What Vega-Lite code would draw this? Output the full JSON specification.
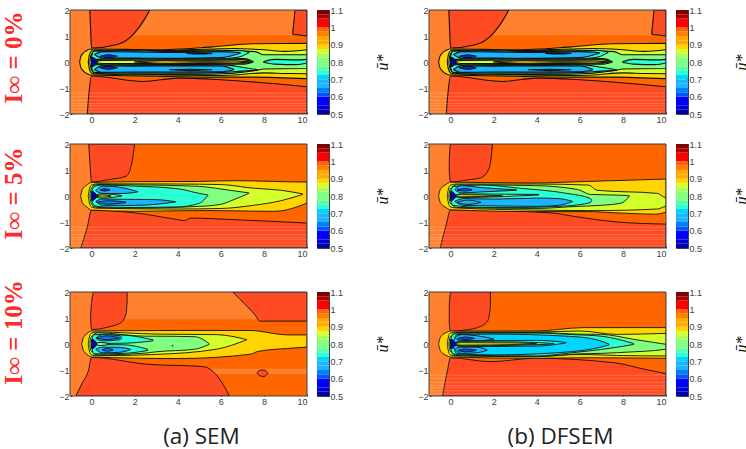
{"$schema":"https://vega.github.io/schema/vega-lite/v6.json","background":"white","padding":{"left":1,"top":5,"right":0,"bottom":0},
"config":{"view":{"stroke":null},"axis":{"grid":false,"domain":false,"labelFont":"Liberation Sans","labelFontSize":9,"labelColor":"#404040","tickColor":"#303030","tickSize":-2,"labelPadding":3,"zindex":1}},
"datasets":{
"fr":[{"x":-1,"x2":10,"y":-2,"y2":2}],
"hl":[{"x":-1,"x2":0.4,"y":-2,"y2":2}],
"h0":[{"x":-1,"x2":0.4,"y":-2,"y2":2},{"x":0.4,"x2":10,"y":1.03,"y2":2}],
"h10":[{"x":-1,"x2":0.4,"y":-2,"y2":2},{"x":0.4,"x2":10,"y":0.95,"y2":2},{"x":5,"x2":10,"y":-1.15,"y2":-0.95}],
"st":[{"x":-1,"x2":10,"y":-1.92},{"x":-1,"x2":10,"y":-1.8},{"x":-1,"x2":10,"y":-1.68},{"x":-1,"x2":10,"y":-1.6},{"x":-1,"x2":10,"y":-1.48},{"x":-1,"x2":10,"y":-1.32},{"x":-1,"x2":10,"y":-1.2}],
"cb":[{"lo":0.5,"hi":0.525},{"lo":0.525,"hi":0.55},{"lo":0.55,"hi":0.575},{"lo":0.575,"hi":0.6},{"lo":0.6,"hi":0.625},{"lo":0.625,"hi":0.65},{"lo":0.65,"hi":0.675},{"lo":0.675,"hi":0.7},{"lo":0.7,"hi":0.725},{"lo":0.725,"hi":0.75},{"lo":0.75,"hi":0.775},{"lo":0.775,"hi":0.8},{"lo":0.8,"hi":0.825},{"lo":0.825,"hi":0.85},{"lo":0.85,"hi":0.875},{"lo":0.875,"hi":0.9},{"lo":0.9,"hi":0.925},{"lo":0.925,"hi":0.95},{"lo":0.95,"hi":0.975},{"lo":0.975,"hi":1.0},{"lo":1.0,"hi":1.025},{"lo":1.025,"hi":1.05},{"lo":1.05,"hi":1.075},{"lo":1.075,"hi":1.1}],
"a0":[
{"s":1,"v":0.98,"x":-0.08,"y":2,"y2":2},{"s":1,"v":0.98,"x":-0.04,"y":2,"y2":1.2},{"s":1,"v":0.98,"x":0,"y":2,"y2":0.54},{"s":1,"v":0.98,"x":1.2,"y":2,"y2":0.67},{"s":1,"v":0.98,"x":2,"y":2,"y2":1.12},{"s":1,"v":0.98,"x":2.45,"y":2,"y2":1.63},{"s":1,"v":0.98,"x":2.7,"y":2,"y2":2},
{"s":2,"v":0.98,"x":-0.2,"y":-2,"y2":-2},{"s":2,"v":0.98,"x":-0.12,"y":-1.2,"y2":-2},{"s":2,"v":0.98,"x":0,"y":-0.54,"y2":-2},{"s":2,"v":0.98,"x":2.4,"y":-0.75,"y2":-2},{"s":2,"v":0.98,"x":4,"y":-0.62,"y2":-2},{"s":2,"v":0.98,"x":6,"y":-0.68,"y2":-2},{"s":2,"v":0.98,"x":10,"y":-0.95,"y2":-2},
{"s":3,"v":0.98,"x":9.34,"y":1.15,"y2":1.1},{"s":3,"v":0.98,"x":9.4,"y":1.6,"y2":1.05},{"s":3,"v":0.98,"x":9.45,"y":2,"y2":1.05},{"s":3,"v":0.98,"x":10,"y":2,"y2":1},
{"s":4,"v":0.89,"x":-0.55,"y":0.02,"y2":-0.02},{"s":4,"v":0.89,"x":-0.5,"y":0.2,"y2":-0.2},{"s":4,"v":0.89,"x":-0.4,"y":0.33,"y2":-0.33},{"s":4,"v":0.89,"x":-0.25,"y":0.43,"y2":-0.43},{"s":4,"v":0.89,"x":-0.1,"y":0.49,"y2":-0.49},{"s":4,"v":0.89,"x":0.1,"y":0.5,"y2":-0.5},{"s":4,"v":0.89,"x":3,"y":0.47,"y2":-0.55},{"s":4,"v":0.89,"x":5.6,"y":0.58,"y2":-0.58},{"s":4,"v":0.89,"x":7.5,"y":0.7,"y2":-0.58},{"s":4,"v":0.89,"x":10,"y":0.72,"y2":-0.64},
{"s":5,"v":0.84,"x":-0.15,"y":0.02,"y2":-0.02},{"s":5,"v":0.84,"x":-0.1,"y":0.27,"y2":-0.27},{"s":5,"v":0.84,"x":0,"y":0.42,"y2":-0.42},{"s":5,"v":0.84,"x":0.2,"y":0.46,"y2":-0.46},{"s":5,"v":0.84,"x":3,"y":0.44,"y2":-0.5},{"s":5,"v":0.84,"x":5.6,"y":0.5,"y2":-0.52},{"s":5,"v":0.84,"x":6.6,"y":0.52,"y2":-0.5},{"s":5,"v":0.84,"x":8,"y":0.47,"y2":-0.42},{"s":5,"v":0.84,"x":9,"y":0.41,"y2":-0.44},{"s":5,"v":0.84,"x":10,"y":0.47,"y2":-0.45},
{"s":6,"v":0.79,"x":-0.08,"y":0.02,"y2":-0.02},{"s":6,"v":0.79,"x":-0.03,"y":0.25,"y2":-0.25},{"s":6,"v":0.79,"x":0.1,"y":0.4,"y2":-0.4},{"s":6,"v":0.79,"x":0.3,"y":0.44,"y2":-0.44},{"s":6,"v":0.79,"x":3,"y":0.42,"y2":-0.48},{"s":6,"v":0.79,"x":5.6,"y":0.46,"y2":-0.47},{"s":6,"v":0.79,"x":7.6,"y":0.4,"y2":-0.33},{"s":6,"v":0.79,"x":8,"y":0.28,"y2":-0.27},{"s":6,"v":0.79,"x":10,"y":0.28,"y2":-0.25},
{"s":7,"v":0.74,"x":0,"y":0.2,"y2":0.18},{"s":7,"v":0.74,"x":0.1,"y":0.42,"y2":0.1},{"s":7,"v":0.74,"x":2,"y":0.43,"y2":0.12},{"s":7,"v":0.74,"x":4,"y":0.4,"y2":0.1},{"s":7,"v":0.74,"x":6,"y":0.43,"y2":0.12},{"s":7,"v":0.74,"x":6.8,"y":0.45,"y2":0.18},{"s":7,"v":0.74,"x":7.3,"y":0.38,"y2":0.36},
{"s":8,"v":0.74,"x":0,"y":-0.18,"y2":-0.2},{"s":8,"v":0.74,"x":0.1,"y":-0.1,"y2":-0.4},{"s":8,"v":0.74,"x":2,"y":-0.12,"y2":-0.43},{"s":8,"v":0.74,"x":4,"y":-0.12,"y2":-0.43},{"s":8,"v":0.74,"x":6,"y":-0.1,"y2":-0.41},{"s":8,"v":0.74,"x":7,"y":-0.2,"y2":-0.35},{"s":8,"v":0.74,"x":7.7,"y":-0.3,"y2":-0.32},
{"s":9,"v":0.67,"x":0.15,"y":0.3,"y2":0.28},{"s":9,"v":0.67,"x":0.5,"y":0.4,"y2":0.15},{"s":9,"v":0.67,"x":2,"y":0.39,"y2":0.15},{"s":9,"v":0.67,"x":4,"y":0.37,"y2":0.14},{"s":9,"v":0.67,"x":6,"y":0.4,"y2":0.17},{"s":9,"v":0.67,"x":6.9,"y":0.36,"y2":0.34},
{"s":10,"v":0.67,"x":0.15,"y":-0.28,"y2":-0.3},{"s":10,"v":0.67,"x":0.5,"y":-0.15,"y2":-0.4},{"s":10,"v":0.67,"x":2,"y":-0.16,"y2":-0.39},{"s":10,"v":0.67,"x":4,"y":-0.15,"y2":-0.39},{"s":10,"v":0.67,"x":6,"y":-0.15,"y2":-0.38},{"s":10,"v":0.67,"x":6.6,"y":-0.28,"y2":-0.3},
{"s":11,"v":0.58,"x":0.4,"y":0.22,"y2":0.22},{"s":11,"v":0.58,"x":0.8,"y":0.28,"y2":0.17},{"s":11,"v":0.58,"x":1.2,"y":0.22,"y2":0.22},
{"s":12,"v":0.58,"x":0.4,"y":-0.22,"y2":-0.22},{"s":12,"v":0.58,"x":0.8,"y":-0.17,"y2":-0.28},{"s":12,"v":0.58,"x":1.2,"y":-0.22,"y2":-0.22},
{"s":13,"v":0.63,"x":4.4,"y":0.33,"y2":0.33},{"s":13,"v":0.63,"x":5,"y":0.35,"y2":0.31},{"s":13,"v":0.63,"x":5.6,"y":0.33,"y2":0.33},
{"s":14,"v":0.63,"x":3.6,"y":-0.3,"y2":-0.3},{"s":14,"v":0.63,"x":4.6,"y":-0.28,"y2":-0.33},{"s":14,"v":0.63,"x":5.6,"y":-0.3,"y2":-0.3},
{"s":15,"v":0.79,"x":0.15,"y":0.02,"y2":-0.02},{"s":15,"v":0.79,"x":0.5,"y":0.11,"y2":-0.11},{"s":15,"v":0.79,"x":5,"y":0.11,"y2":-0.09},{"s":15,"v":0.79,"x":7.1,"y":0.13,"y2":-0.08},{"s":15,"v":0.79,"x":7.5,"y":0.02,"y2":0},
{"s":16,"v":0.84,"x":0.2,"y":0.02,"y2":-0.02},{"s":16,"v":0.84,"x":0.5,"y":0.06,"y2":-0.06},{"s":16,"v":0.84,"x":3,"y":0.07,"y2":-0.06},{"s":16,"v":0.84,"x":5,"y":0.07,"y2":-0.06},{"s":16,"v":0.84,"x":7,"y":0.09,"y2":-0.05},{"s":16,"v":0.84,"x":7.4,"y":0.02,"y2":0},
{"s":17,"v":0.89,"x":2,"y":0.01,"y2":0},{"s":17,"v":0.89,"x":3.5,"y":0.05,"y2":-0.05},{"s":17,"v":0.89,"x":5,"y":0.03,"y2":-0.03},{"s":17,"v":0.89,"x":6.6,"y":0.04,"y2":-0.04},{"s":17,"v":0.89,"x":7.3,"y":0.01,"y2":0},
{"s":18,"v":0.74,"x":8,"y":0.02,"y2":-0.02},{"s":18,"v":0.74,"x":8.5,"y":0.1,"y2":-0.08},{"s":18,"v":0.74,"x":9.5,"y":0.08,"y2":-0.1},{"s":18,"v":0.74,"x":10,"y":0.1,"y2":-0.04},
{"s":19,"v":0.5,"x":0,"y":0.18,"y2":-0.18},{"s":19,"v":0.5,"x":0.1,"y":0.16,"y2":-0.16},{"s":19,"v":0.5,"x":0.25,"y":0.02,"y2":-0.02}],
"a5":[
{"s":1,"v":0.98,"x":-0.13,"y":2,"y2":2},{"s":1,"v":0.98,"x":-0.07,"y":2,"y2":1.2},{"s":1,"v":0.98,"x":0,"y":2,"y2":0.54},{"s":1,"v":0.98,"x":0.8,"y":2,"y2":0.63},{"s":1,"v":0.98,"x":1.6,"y":2,"y2":0.76},{"s":1,"v":0.98,"x":1.85,"y":2,"y2":1.2},{"s":1,"v":0.98,"x":2,"y":2,"y2":2},
{"s":2,"v":0.98,"x":-0.5,"y":-2,"y2":-2},{"s":2,"v":0.98,"x":-0.2,"y":-1.2,"y2":-2},{"s":2,"v":0.98,"x":0,"y":-0.54,"y2":-2},{"s":2,"v":0.98,"x":2,"y":-0.65,"y2":-2},{"s":2,"v":0.98,"x":4,"y":-0.91,"y2":-2},{"s":2,"v":0.98,"x":4.3,"y":-0.95,"y2":-2},{"s":2,"v":0.98,"x":4.6,"y":-0.85,"y2":-2},{"s":2,"v":0.98,"x":6.6,"y":-0.91,"y2":-2},{"s":2,"v":0.98,"x":10,"y":-1.04,"y2":-2},
{"s":3,"v":0.89,"x":-0.5,"y":0.02,"y2":-0.02},{"s":3,"v":0.89,"x":-0.45,"y":0.2,"y2":-0.2},{"s":3,"v":0.89,"x":-0.35,"y":0.33,"y2":-0.33},{"s":3,"v":0.89,"x":-0.2,"y":0.44,"y2":-0.44},{"s":3,"v":0.89,"x":0,"y":0.52,"y2":-0.54},{"s":3,"v":0.89,"x":2,"y":0.55,"y2":-0.59},{"s":3,"v":0.89,"x":5,"y":0.56,"y2":-0.56},{"s":3,"v":0.89,"x":6.6,"y":0.59,"y2":-0.57},{"s":3,"v":0.89,"x":8.5,"y":0.56,"y2":-0.59},{"s":3,"v":0.89,"x":9.6,"y":0.54,"y2":-0.4},{"s":3,"v":0.89,"x":10,"y":0.54,"y2":-0.27},
{"s":4,"v":0.84,"x":-0.15,"y":0.02,"y2":-0.02},{"s":4,"v":0.84,"x":-0.1,"y":0.27,"y2":-0.27},{"s":4,"v":0.84,"x":0,"y":0.42,"y2":-0.42},{"s":4,"v":0.84,"x":0.3,"y":0.47,"y2":-0.47},{"s":4,"v":0.84,"x":4,"y":0.46,"y2":-0.5},{"s":4,"v":0.84,"x":6,"y":0.44,"y2":-0.48},{"s":4,"v":0.84,"x":7.5,"y":0.3,"y2":-0.36},{"s":4,"v":0.84,"x":8.8,"y":0.22,"y2":-0.18},{"s":4,"v":0.84,"x":9.8,"y":0.08,"y2":0.06},
{"s":5,"v":0.79,"x":-0.08,"y":0.02,"y2":-0.02},{"s":5,"v":0.79,"x":-0.03,"y":0.25,"y2":-0.25},{"s":5,"v":0.79,"x":0.1,"y":0.4,"y2":-0.4},{"s":5,"v":0.79,"x":0.3,"y":0.44,"y2":-0.44},{"s":5,"v":0.79,"x":2,"y":0.43,"y2":-0.46},{"s":5,"v":0.79,"x":5,"y":0.37,"y2":-0.4},{"s":5,"v":0.79,"x":6,"y":0.27,"y2":-0.32},{"s":5,"v":0.79,"x":6.6,"y":0.2,"y2":-0.14},{"s":5,"v":0.79,"x":7.3,"y":0.12,"y2":0.1},
{"s":6,"v":0.74,"x":-0.02,"y":0.02,"y2":-0.02},{"s":6,"v":0.74,"x":0.1,"y":0.36,"y2":-0.36},{"s":6,"v":0.74,"x":0.5,"y":0.42,"y2":-0.42},{"s":6,"v":0.74,"x":2,"y":0.38,"y2":-0.44},{"s":6,"v":0.74,"x":4,"y":0.28,"y2":-0.42},{"s":6,"v":0.74,"x":5,"y":0.1,"y2":-0.28},{"s":6,"v":0.74,"x":5.4,"y":0.04,"y2":0.02},
{"s":7,"v":0.67,"x":0.2,"y":0.21,"y2":0.2},{"s":7,"v":0.67,"x":0.5,"y":0.38,"y2":0.1},{"s":7,"v":0.67,"x":1,"y":0.37,"y2":0.09},{"s":7,"v":0.67,"x":1.6,"y":0.29,"y2":0.1},{"s":7,"v":0.67,"x":2.15,"y":0.17,"y2":0.16},
{"s":8,"v":0.67,"x":0.2,"y":-0.2,"y2":-0.21},{"s":8,"v":0.67,"x":0.5,"y":-0.12,"y2":-0.36},{"s":8,"v":0.67,"x":2,"y":-0.13,"y2":-0.36},{"s":8,"v":0.67,"x":3,"y":-0.14,"y2":-0.32},{"s":8,"v":0.67,"x":3.9,"y":-0.22,"y2":-0.23},
{"s":9,"v":0.58,"x":0.4,"y":0.24,"y2":0.23},{"s":9,"v":0.58,"x":0.6,"y":0.28,"y2":0.19},{"s":9,"v":0.58,"x":0.85,"y":0.24,"y2":0.23},
{"s":10,"v":0.63,"x":0.25,"y":-0.24,"y2":-0.25},{"s":10,"v":0.63,"x":0.8,"y":-0.18,"y2":-0.31},{"s":10,"v":0.63,"x":1.6,"y":-0.24,"y2":-0.25},
{"s":11,"v":0.79,"x":0.15,"y":0.02,"y2":-0.02},{"s":11,"v":0.79,"x":0.5,"y":0.09,"y2":-0.09},{"s":11,"v":0.79,"x":1.1,"y":0.05,"y2":-0.04},{"s":11,"v":0.79,"x":1.4,"y":0.01,"y2":0},
{"s":12,"v":0.87,"x":0.25,"y":0.01,"y2":-0.01},{"s":12,"v":0.87,"x":0.5,"y":0.04,"y2":-0.04},{"s":12,"v":0.87,"x":0.9,"y":0.01,"y2":-0.01},
{"s":13,"v":0.5,"x":0,"y":0.18,"y2":-0.18},{"s":13,"v":0.5,"x":0.1,"y":0.16,"y2":-0.16},{"s":13,"v":0.5,"x":0.25,"y":0.02,"y2":-0.02}],
"a10":[
{"s":1,"v":0.98,"x":-0.04,"y":1.1,"y2":0.9},{"s":1,"v":0.98,"x":0,"y":1.6,"y2":0.56},{"s":1,"v":0.98,"x":0.12,"y":2,"y2":0.56},{"s":1,"v":0.98,"x":0.8,"y":2,"y2":0.66},{"s":1,"v":0.98,"x":1.36,"y":2,"y2":0.82},{"s":1,"v":0.98,"x":1.6,"y":2,"y2":1.15},{"s":1,"v":0.98,"x":1.65,"y":2,"y2":1.6},
{"s":2,"v":0.98,"x":-0.73,"y":-2,"y2":-2},{"s":2,"v":0.98,"x":-0.4,"y":-1.45,"y2":-2},{"s":2,"v":0.98,"x":-0.15,"y":-1.04,"y2":-2},{"s":2,"v":0.98,"x":0,"y":-0.52,"y2":-2},{"s":2,"v":0.98,"x":2.6,"y":-0.78,"y2":-2},{"s":2,"v":0.98,"x":5.2,"y":-0.87,"y2":-2},{"s":2,"v":0.98,"x":5.9,"y":-1.3,"y2":-2},{"s":2,"v":0.98,"x":6.4,"y":-2,"y2":-2},
{"s":3,"v":0.98,"x":6.55,"y":2,"y2":2},{"s":3,"v":0.98,"x":7.1,"y":2,"y2":1.55},{"s":3,"v":0.98,"x":7.65,"y":2,"y2":1.05},{"s":3,"v":0.98,"x":7.8,"y":2,"y2":0.88},{"s":3,"v":0.98,"x":10,"y":2,"y2":0.88},
{"s":4,"v":0.98,"x":7.68,"y":-1.1,"y2":-1.11},{"s":4,"v":0.98,"x":7.8,"y":-1.02,"y2":-1.22},{"s":4,"v":0.98,"x":8,"y":-1,"y2":-1.25},{"s":4,"v":0.98,"x":8.17,"y":-1.1,"y2":-1.14},
{"s":5,"v":0.89,"x":-0.45,"y":0.02,"y2":-0.02},{"s":5,"v":0.89,"x":-0.4,"y":0.2,"y2":-0.2},{"s":5,"v":0.89,"x":-0.3,"y":0.33,"y2":-0.33},{"s":5,"v":0.89,"x":-0.15,"y":0.44,"y2":-0.44},{"s":5,"v":0.89,"x":0,"y":0.5,"y2":-0.5},{"s":5,"v":0.89,"x":4,"y":0.52,"y2":-0.56},{"s":5,"v":0.89,"x":7.4,"y":0.52,"y2":-0.39},{"s":5,"v":0.89,"x":7.7,"y":0.5,"y2":-0.29},{"s":5,"v":0.89,"x":9.1,"y":0.35,"y2":-0.17},{"s":5,"v":0.89,"x":10,"y":0.35,"y2":-0.12},
{"s":6,"v":0.84,"x":-0.15,"y":0.02,"y2":-0.02},{"s":6,"v":0.84,"x":-0.1,"y":0.27,"y2":-0.27},{"s":6,"v":0.84,"x":0,"y":0.42,"y2":-0.42},{"s":6,"v":0.84,"x":0.3,"y":0.46,"y2":-0.45},{"s":6,"v":0.84,"x":3,"y":0.38,"y2":-0.4},{"s":6,"v":0.84,"x":5.8,"y":0.36,"y2":-0.2},{"s":6,"v":0.84,"x":7.2,"y":0.17,"y2":0.16},
{"s":7,"v":0.79,"x":-0.08,"y":0.02,"y2":-0.02},{"s":7,"v":0.79,"x":-0.03,"y":0.25,"y2":-0.25},{"s":7,"v":0.79,"x":0.3,"y":0.43,"y2":-0.42},{"s":7,"v":0.79,"x":2.5,"y":0.3,"y2":-0.35},{"s":7,"v":0.79,"x":3,"y":0.3,"y2":-0.3},{"s":7,"v":0.79,"x":4.8,"y":0.28,"y2":-0.2},{"s":7,"v":0.79,"x":5.45,"y":0.02,"y2":-0.02},
{"s":8,"v":0.74,"x":0,"y":0.05,"y2":0.03},{"s":8,"v":0.74,"x":0.1,"y":0.36,"y2":0.02},{"s":8,"v":0.74,"x":1.5,"y":0.34,"y2":0.03},{"s":8,"v":0.74,"x":2.85,"y":0.16,"y2":0.12},
{"s":9,"v":0.74,"x":0,"y":-0.03,"y2":-0.05},{"s":9,"v":0.74,"x":0.1,"y":-0.02,"y2":-0.38},{"s":9,"v":0.74,"x":1.5,"y":-0.03,"y2":-0.36},{"s":9,"v":0.74,"x":2.6,"y":-0.2,"y2":-0.25},
{"s":10,"v":0.67,"x":0.2,"y":0.23,"y2":0.22},{"s":10,"v":0.67,"x":0.5,"y":0.36,"y2":0.12},{"s":10,"v":0.67,"x":1.3,"y":0.32,"y2":0.16},{"s":10,"v":0.67,"x":1.4,"y":0.25,"y2":0.23},
{"s":11,"v":0.67,"x":0.2,"y":-0.2,"y2":-0.21},{"s":11,"v":0.67,"x":0.5,"y":-0.12,"y2":-0.34},{"s":11,"v":0.67,"x":1.3,"y":-0.13,"y2":-0.32},{"s":11,"v":0.67,"x":1.8,"y":-0.2,"y2":-0.22},
{"s":12,"v":0.63,"x":0.25,"y":0.24,"y2":0.23},{"s":12,"v":0.63,"x":0.7,"y":0.31,"y2":0.17},{"s":12,"v":0.63,"x":1.3,"y":0.24,"y2":0.23},
{"s":13,"v":0.63,"x":0.5,"y":-0.22,"y2":-0.23},{"s":13,"v":0.63,"x":0.75,"y":-0.17,"y2":-0.28},{"s":13,"v":0.63,"x":1,"y":-0.22,"y2":-0.23},
{"s":14,"v":0.79,"x":0.15,"y":0.02,"y2":-0.02},{"s":14,"v":0.79,"x":0.4,"y":0.06,"y2":-0.06},{"s":14,"v":0.79,"x":0.85,"y":0.01,"y2":-0.01},
{"s":15,"v":0.7,"x":3.72,"y":-0.07,"y2":-0.07},{"s":15,"v":0.7,"x":3.75,"y":-0.05,"y2":-0.09},{"s":15,"v":0.7,"x":3.78,"y":-0.07,"y2":-0.07},
{"s":16,"v":0.5,"x":0,"y":0.18,"y2":-0.18},{"s":16,"v":0.5,"x":0.1,"y":0.16,"y2":-0.16},{"s":16,"v":0.5,"x":0.25,"y":0.02,"y2":-0.02}],
"b5":[
{"s":1,"v":0.98,"x":-0.06,"y":1.4,"y2":0.9},{"s":1,"v":0.98,"x":0,"y":2,"y2":0.54},{"s":1,"v":0.98,"x":0.8,"y":2,"y2":0.62},{"s":1,"v":0.98,"x":1.4,"y":2,"y2":0.7},{"s":1,"v":0.98,"x":1.8,"y":2,"y2":1.08},{"s":1,"v":0.98,"x":1.95,"y":2,"y2":2},
{"s":2,"v":0.98,"x":-0.48,"y":-2,"y2":-2},{"s":2,"v":0.98,"x":-0.2,"y":-1.1,"y2":-2},{"s":2,"v":0.98,"x":0,"y":-0.53,"y2":-2},{"s":2,"v":0.98,"x":4.66,"y":-0.65,"y2":-2},{"s":2,"v":0.98,"x":5.7,"y":-0.78,"y2":-2},{"s":2,"v":0.98,"x":7.75,"y":-1,"y2":-2},{"s":2,"v":0.98,"x":10,"y":-1.08,"y2":-2},
{"s":3,"v":0.89,"x":-0.55,"y":0.02,"y2":-0.02},{"s":3,"v":0.89,"x":-0.5,"y":0.2,"y2":-0.2},{"s":3,"v":0.89,"x":-0.4,"y":0.33,"y2":-0.33},{"s":3,"v":0.89,"x":-0.2,"y":0.45,"y2":-0.45},{"s":3,"v":0.89,"x":0,"y":0.53,"y2":-0.53},{"s":3,"v":0.89,"x":3.9,"y":0.5,"y2":-0.6},{"s":3,"v":0.89,"x":6.3,"y":0.56,"y2":-0.6},{"s":3,"v":0.89,"x":8,"y":0.6,"y2":-0.66},{"s":3,"v":0.89,"x":9.5,"y":0.64,"y2":-0.7},{"s":3,"v":0.89,"x":10,"y":0.65,"y2":-0.62},
{"s":4,"v":0.84,"x":-0.15,"y":0.02,"y2":-0.02},{"s":4,"v":0.84,"x":-0.1,"y":0.27,"y2":-0.27},{"s":4,"v":0.84,"x":0,"y":0.42,"y2":-0.42},{"s":4,"v":0.84,"x":0.3,"y":0.46,"y2":-0.46},{"s":4,"v":0.84,"x":3.9,"y":0.46,"y2":-0.54},{"s":4,"v":0.84,"x":6.4,"y":0.42,"y2":-0.56},{"s":4,"v":0.84,"x":6.8,"y":0.22,"y2":-0.56},{"s":4,"v":0.84,"x":9.6,"y":0.1,"y2":-0.5},{"s":4,"v":0.84,"x":9.9,"y":-0.04,"y2":-0.42},{"s":4,"v":0.84,"x":10,"y":-0.06,"y2":-0.4},
{"s":5,"v":0.79,"x":-0.08,"y":0.02,"y2":-0.02},{"s":5,"v":0.79,"x":-0.03,"y":0.25,"y2":-0.25},{"s":5,"v":0.79,"x":0.3,"y":0.43,"y2":-0.44},{"s":5,"v":0.79,"x":3.9,"y":0.4,"y2":-0.48},{"s":5,"v":0.79,"x":5.9,"y":0.25,"y2":-0.4},{"s":5,"v":0.79,"x":6.5,"y":0.06,"y2":-0.38},{"s":5,"v":0.79,"x":7.9,"y":0.03,"y2":-0.28},{"s":5,"v":0.79,"x":8.3,"y":0.01,"y2":-0.01},
{"s":6,"v":0.74,"x":-0.02,"y":0.02,"y2":-0.02},{"s":6,"v":0.74,"x":0.1,"y":0.36,"y2":-0.36},{"s":6,"v":0.74,"x":1.5,"y":0.42,"y2":-0.44},{"s":6,"v":0.74,"x":3.2,"y":0.3,"y2":-0.44},{"s":6,"v":0.74,"x":5.4,"y":0.1,"y2":-0.38},{"s":6,"v":0.74,"x":6.5,"y":-0.1,"y2":-0.25},{"s":6,"v":0.74,"x":6.55,"y":-0.15,"y2":-0.17},
{"s":7,"v":0.67,"x":0.2,"y":0.25,"y2":0.24},{"s":7,"v":0.67,"x":0.5,"y":0.4,"y2":0.12},{"s":7,"v":0.67,"x":1.5,"y":0.32,"y2":0.16},{"s":7,"v":0.67,"x":3.05,"y":0.24,"y2":0.22},
{"s":8,"v":0.67,"x":0.2,"y":-0.2,"y2":-0.21},{"s":8,"v":0.67,"x":0.6,"y":-0.1,"y2":-0.36},{"s":8,"v":0.67,"x":2,"y":-0.12,"y2":-0.38},{"s":8,"v":0.67,"x":4,"y":-0.08,"y2":-0.4},{"s":8,"v":0.67,"x":5,"y":-0.1,"y2":-0.36},{"s":8,"v":0.67,"x":5.65,"y":-0.2,"y2":-0.22},
{"s":9,"v":0.6,"x":0.3,"y":0.24,"y2":0.23},{"s":9,"v":0.6,"x":0.65,"y":0.29,"y2":0.19},{"s":9,"v":0.6,"x":1,"y":0.24,"y2":0.23},
{"s":10,"v":0.65,"x":0.3,"y":-0.24,"y2":-0.25},{"s":10,"v":0.65,"x":0.8,"y":-0.16,"y2":-0.32},{"s":10,"v":0.65,"x":1.4,"y":-0.24,"y2":-0.25},
{"s":11,"v":0.79,"x":0.15,"y":0.02,"y2":-0.02},{"s":11,"v":0.79,"x":0.5,"y":0.08,"y2":-0.06},{"s":11,"v":0.79,"x":2.5,"y":0.07,"y2":-0.02},{"s":11,"v":0.79,"x":4.1,"y":0.06,"y2":0.04},
{"s":12,"v":0.87,"x":0.2,"y":0.02,"y2":-0.02},{"s":12,"v":0.87,"x":0.5,"y":0.05,"y2":-0.03},{"s":12,"v":0.87,"x":2.4,"y":0.01,"y2":0},
{"s":13,"v":0.5,"x":0,"y":0.18,"y2":-0.18},{"s":13,"v":0.5,"x":0.1,"y":0.16,"y2":-0.16},{"s":13,"v":0.5,"x":0.25,"y":0.02,"y2":-0.02}],
"b10":[
{"s":1,"v":0.98,"x":-0.06,"y":1.4,"y2":0.8},{"s":1,"v":0.98,"x":0,"y":2,"y2":0.48},{"s":1,"v":0.98,"x":0.6,"y":2,"y2":0.53},{"s":1,"v":0.98,"x":1.25,"y":2,"y2":0.63},{"s":1,"v":0.98,"x":1.72,"y":2,"y2":0.88},{"s":1,"v":0.98,"x":1.85,"y":2,"y2":1.4},
{"s":2,"v":0.98,"x":-0.37,"y":-2,"y2":-2},{"s":2,"v":0.98,"x":-0.15,"y":-1.05,"y2":-2},{"s":2,"v":0.98,"x":0,"y":-0.53,"y2":-2},{"s":2,"v":0.98,"x":1.87,"y":-0.68,"y2":-2},{"s":2,"v":0.98,"x":3.9,"y":-0.55,"y2":-2},{"s":2,"v":0.98,"x":7.6,"y":-0.72,"y2":-2},{"s":2,"v":0.98,"x":9,"y":-0.97,"y2":-2},{"s":2,"v":0.98,"x":10,"y":-1.14,"y2":-2},
{"s":3,"v":0.89,"x":-0.55,"y":0.02,"y2":-0.02},{"s":3,"v":0.89,"x":-0.5,"y":0.2,"y2":-0.2},{"s":3,"v":0.89,"x":-0.4,"y":0.33,"y2":-0.33},{"s":3,"v":0.89,"x":-0.2,"y":0.44,"y2":-0.44},{"s":3,"v":0.89,"x":0,"y":0.5,"y2":-0.5},{"s":3,"v":0.89,"x":3.9,"y":0.5,"y2":-0.55},{"s":3,"v":0.89,"x":6.2,"y":0.63,"y2":-0.53},{"s":3,"v":0.89,"x":10,"y":0.63,"y2":-0.55},
{"s":4,"v":0.84,"x":-0.15,"y":0.02,"y2":-0.02},{"s":4,"v":0.84,"x":-0.1,"y":0.27,"y2":-0.27},{"s":4,"v":0.84,"x":0,"y":0.42,"y2":-0.42},{"s":4,"v":0.84,"x":0.3,"y":0.46,"y2":-0.46},{"s":4,"v":0.84,"x":3.9,"y":0.46,"y2":-0.49},{"s":4,"v":0.84,"x":6,"y":0.5,"y2":-0.4},{"s":4,"v":0.84,"x":7.7,"y":0.37,"y2":-0.44},{"s":4,"v":0.84,"x":10,"y":0.41,"y2":-0.46},
{"s":5,"v":0.79,"x":-0.08,"y":0.02,"y2":-0.02},{"s":5,"v":0.79,"x":-0.03,"y":0.25,"y2":-0.25},{"s":5,"v":0.79,"x":0.3,"y":0.44,"y2":-0.44},{"s":5,"v":0.79,"x":4.2,"y":0.44,"y2":-0.47},{"s":5,"v":0.79,"x":5.9,"y":0.38,"y2":-0.38},{"s":5,"v":0.79,"x":7,"y":0.37,"y2":-0.36},{"s":5,"v":0.79,"x":8.5,"y":0.18,"y2":-0.3},{"s":5,"v":0.79,"x":9.5,"y":0.05,"y2":-0.25},{"s":5,"v":0.79,"x":10,"y":-0.01,"y2":-0.2},
{"s":6,"v":0.74,"x":-0.02,"y":0.02,"y2":-0.02},{"s":6,"v":0.74,"x":0.1,"y":0.38,"y2":-0.38},{"s":6,"v":0.74,"x":1,"y":0.42,"y2":-0.44},{"s":6,"v":0.74,"x":4,"y":0.42,"y2":-0.46},{"s":6,"v":0.74,"x":5.7,"y":0.36,"y2":-0.33},{"s":6,"v":0.74,"x":7,"y":0.3,"y2":-0.21},{"s":6,"v":0.74,"x":8.5,"y":0.02,"y2":-0.02},
{"s":7,"v":0.69,"x":0.1,"y":0.02,"y2":-0.02},{"s":7,"v":0.69,"x":0.3,"y":0.36,"y2":-0.38},{"s":7,"v":0.69,"x":2,"y":0.38,"y2":-0.42},{"s":7,"v":0.69,"x":5.4,"y":0.3,"y2":-0.31},{"s":7,"v":0.69,"x":6.7,"y":0.18,"y2":-0.17},{"s":7,"v":0.69,"x":7.35,"y":0,"y2":-0.04},
{"s":8,"v":0.65,"x":0.2,"y":0.25,"y2":0.24},{"s":8,"v":0.65,"x":0.5,"y":0.36,"y2":0.12},{"s":8,"v":0.65,"x":1.2,"y":0.32,"y2":0.12},{"s":8,"v":0.65,"x":2,"y":0.2,"y2":0.18},
{"s":9,"v":0.65,"x":0.2,"y":-0.2,"y2":-0.21},{"s":9,"v":0.65,"x":0.5,"y":-0.12,"y2":-0.36},{"s":9,"v":0.65,"x":1.2,"y":-0.12,"y2":-0.34},{"s":9,"v":0.65,"x":1.7,"y":-0.23,"y2":-0.24},
{"s":10,"v":0.6,"x":0.35,"y":0.22,"y2":0.21},{"s":10,"v":0.6,"x":0.7,"y":0.27,"y2":0.17},{"s":10,"v":0.6,"x":1.1,"y":0.22,"y2":0.21},
{"s":11,"v":0.6,"x":0.35,"y":-0.24,"y2":-0.25},{"s":11,"v":0.6,"x":0.7,"y":-0.19,"y2":-0.3},{"s":11,"v":0.6,"x":1.2,"y":-0.24,"y2":-0.25},
{"s":12,"v":0.72,"x":0.15,"y":0.02,"y2":-0.02},{"s":12,"v":0.72,"x":0.5,"y":0.12,"y2":-0.1},{"s":12,"v":0.72,"x":4,"y":0.14,"y2":-0.08},{"s":12,"v":0.72,"x":5.35,"y":0.06,"y2":0.04},
{"s":13,"v":0.79,"x":0.15,"y":0.02,"y2":-0.02},{"s":13,"v":0.79,"x":0.5,"y":0.09,"y2":-0.07},{"s":13,"v":0.79,"x":3,"y":0.08,"y2":-0.05},{"s":13,"v":0.79,"x":4.8,"y":0.02,"y2":0},
{"s":14,"v":0.86,"x":0.2,"y":0.02,"y2":-0.02},{"s":14,"v":0.86,"x":0.5,"y":0.05,"y2":-0.04},{"s":14,"v":0.86,"x":3,"y":0.04,"y2":-0.02},{"s":14,"v":0.86,"x":4,"y":0.01,"y2":0},
{"s":15,"v":0.5,"x":0,"y":0.18,"y2":-0.18},{"s":15,"v":0.5,"x":0.1,"y":0.16,"y2":-0.16},{"s":15,"v":0.5,"x":0.25,"y":0.02,"y2":-0.02}]
},
"vconcat":[{"vconcat":[
{"hconcat":[
{"width":237,"height":104,"encoding":{"x":{"field":"x","type":"quantitative","scale":{"domain":[-1,10],"nice":false},"axis":{"values":[0,2,4,6,8,10],"title":null}},"y":{"field":"y","type":"quantitative","scale":{"domain":[-2,2],"nice":false},"axis":{"values":[-2,-1,0,1,2],"title":"I∞ = 0%","titleX":-44,"titleY":47,"titleColor":"#FF2A2A","titleFont":"Liberation Serif","titleFontWeight":"bold","titleFontSize":25}}},"layer":[
{"data":{"name":"fr"},"mark":{"type":"rect","fill":"#FF6600"},"encoding":{"x2":{"field":"x2"},"y2":{"field":"y2"}}},
{"data":{"name":"h0"},"mark":{"type":"rect","fill":"white","opacity":0.18},"encoding":{"x2":{"field":"x2"},"y2":{"field":"y2"}}},
{"data":{"name":"a0"},"mark":{"type":"area","orient":"vertical","interpolate":"monotone","stroke":"#111111","strokeWidth":1.1,"clip":true},"encoding":{"y2":{"field":"y2"},"detail":{"field":"s"},"color":{"field":"v","type":"quantitative","legend":null,"scale":{"type":"quantize","domain":[0.5,1.1],"range":["#0000AA","#0000D4","#0000FF","#002BFF","#0055FF","#0080FF","#1CB4FF","#00D4FF","#00FFFF","#2BFFD4","#55FFAA","#80FF80","#AAFF55","#D4FF2B","#FFFF00","#FFD400","#FFAA00","#FF8000","#FF6600","#FF4B22","#FF0000","#D40000","#AA0000","#800000"]}}}},
{"data":{"name":"st"},"mark":{"type":"rule","stroke":"white","opacity":0.2,"strokeWidth":1},"encoding":{"x2":{"field":"x2"}}},
{"data":{"name":"fr"},"mark":{"type":"rect","filled":false,"stroke":"#404040","strokeWidth":1},"encoding":{"x2":{"field":"x2"},"y2":{"field":"y2"}}}]},
{"width":12,"height":104,"view":{"stroke":"#404040"},"data":{"name":"cb"},"mark":{"type":"rect"},"encoding":{"y":{"field":"lo","type":"quantitative","scale":{"domain":[0.5,1.1],"nice":false},"axis":{"orient":"right","values":[0.5,0.6,0.7,0.8,0.9,1,1.1],"format":".1~f","title":"ū*","titleAngle":270,"titleX":61,"titleY":52,"titleFont":"Liberation Serif","titleFontStyle":"italic","titleFontWeight":"normal","titleFontSize":16,"titleColor":"#111111"}},"y2":{"field":"hi"},"color":{"field":"lo","type":"quantitative","legend":null,"scale":{"type":"quantize","domain":[0.5,1.1],"range":["#0000AA","#0000D4","#0000FF","#002BFF","#0055FF","#0080FF","#1CB4FF","#00D4FF","#00FFFF","#2BFFD4","#55FFAA","#80FF80","#AAFF55","#D4FF2B","#FFFF00","#FFD400","#FFAA00","#FF8000","#FF6600","#FF4B22","#FF0000","#D40000","#AA0000","#800000"]}}}},
{"width":80,"height":104,"data":{"name":"fr"},"mark":{"type":"rule","opacity":0},"encoding":{}},
{"width":237,"height":104,"encoding":{"x":{"field":"x","type":"quantitative","scale":{"domain":[-1,10],"nice":false},"axis":{"values":[0,2,4,6,8,10],"title":null}},"y":{"field":"y","type":"quantitative","scale":{"domain":[-2,2],"nice":false},"axis":{"values":[-2,-1,0,1,2],"title":null}}},"layer":[
{"data":{"name":"fr"},"mark":{"type":"rect","fill":"#FF6600"},"encoding":{"x2":{"field":"x2"},"y2":{"field":"y2"}}},
{"data":{"name":"h0"},"mark":{"type":"rect","fill":"white","opacity":0.18},"encoding":{"x2":{"field":"x2"},"y2":{"field":"y2"}}},
{"data":{"name":"a0"},"mark":{"type":"area","orient":"vertical","interpolate":"monotone","stroke":"#111111","strokeWidth":1.1,"clip":true},"encoding":{"y2":{"field":"y2"},"detail":{"field":"s"},"color":{"field":"v","type":"quantitative","legend":null,"scale":{"type":"quantize","domain":[0.5,1.1],"range":["#0000AA","#0000D4","#0000FF","#002BFF","#0055FF","#0080FF","#1CB4FF","#00D4FF","#00FFFF","#2BFFD4","#55FFAA","#80FF80","#AAFF55","#D4FF2B","#FFFF00","#FFD400","#FFAA00","#FF8000","#FF6600","#FF4B22","#FF0000","#D40000","#AA0000","#800000"]}}}},
{"data":{"name":"st"},"mark":{"type":"rule","stroke":"white","opacity":0.2,"strokeWidth":1},"encoding":{"x2":{"field":"x2"}}},
{"data":{"name":"fr"},"mark":{"type":"rect","filled":false,"stroke":"#404040","strokeWidth":1},"encoding":{"x2":{"field":"x2"},"y2":{"field":"y2"}}}]},
{"width":12,"height":104,"view":{"stroke":"#404040"},"data":{"name":"cb"},"mark":{"type":"rect"},"encoding":{"y":{"field":"lo","type":"quantitative","scale":{"domain":[0.5,1.1],"nice":false},"axis":{"orient":"right","values":[0.5,0.6,0.7,0.8,0.9,1,1.1],"format":".1~f","title":"ū*","titleAngle":270,"titleX":61,"titleY":52,"titleFont":"Liberation Serif","titleFontStyle":"italic","titleFontWeight":"normal","titleFontSize":16,"titleColor":"#111111"}},"y2":{"field":"hi"},"color":{"field":"lo","type":"quantitative","legend":null,"scale":{"type":"quantize","domain":[0.5,1.1],"range":["#0000AA","#0000D4","#0000FF","#002BFF","#0055FF","#0080FF","#1CB4FF","#00D4FF","#00FFFF","#2BFFD4","#55FFAA","#80FF80","#AAFF55","#D4FF2B","#FFFF00","#FFD400","#FFAA00","#FF8000","#FF6600","#FF4B22","#FF0000","#D40000","#AA0000","#800000"]}}}}
],"spacing":10,"bounds":"flush"},
{"hconcat":[
{"width":237,"height":104,"encoding":{"x":{"field":"x","type":"quantitative","scale":{"domain":[-1,10],"nice":false},"axis":{"values":[0,2,4,6,8,10],"title":null}},"y":{"field":"y","type":"quantitative","scale":{"domain":[-2,2],"nice":false},"axis":{"values":[-2,-1,0,1,2],"title":"I∞ = 5%","titleX":-44,"titleY":49,"titleColor":"#FF2A2A","titleFont":"Liberation Serif","titleFontWeight":"bold","titleFontSize":25}}},"layer":[
{"data":{"name":"fr"},"mark":{"type":"rect","fill":"#FF6600"},"encoding":{"x2":{"field":"x2"},"y2":{"field":"y2"}}},
{"data":{"name":"hl"},"mark":{"type":"rect","fill":"white","opacity":0.18},"encoding":{"x2":{"field":"x2"},"y2":{"field":"y2"}}},
{"data":{"name":"a5"},"mark":{"type":"area","orient":"vertical","interpolate":"monotone","stroke":"#111111","strokeWidth":0.9,"clip":true},"encoding":{"y2":{"field":"y2"},"detail":{"field":"s"},"color":{"field":"v","type":"quantitative","legend":null,"scale":{"type":"quantize","domain":[0.5,1.1],"range":["#0000AA","#0000D4","#0000FF","#002BFF","#0055FF","#0080FF","#1CB4FF","#00D4FF","#00FFFF","#2BFFD4","#55FFAA","#80FF80","#AAFF55","#D4FF2B","#FFFF00","#FFD400","#FFAA00","#FF8000","#FF6600","#FF4B22","#FF0000","#D40000","#AA0000","#800000"]}}}},
{"data":{"name":"st"},"mark":{"type":"rule","stroke":"white","opacity":0.2,"strokeWidth":1},"encoding":{"x2":{"field":"x2"}}},
{"data":{"name":"fr"},"mark":{"type":"rect","filled":false,"stroke":"#404040","strokeWidth":1},"encoding":{"x2":{"field":"x2"},"y2":{"field":"y2"}}}]},
{"width":12,"height":104,"view":{"stroke":"#404040"},"data":{"name":"cb"},"mark":{"type":"rect"},"encoding":{"y":{"field":"lo","type":"quantitative","scale":{"domain":[0.5,1.1],"nice":false},"axis":{"orient":"right","values":[0.5,0.6,0.7,0.8,0.9,1,1.1],"format":".1~f","title":"ū*","titleAngle":270,"titleX":61,"titleY":52,"titleFont":"Liberation Serif","titleFontStyle":"italic","titleFontWeight":"normal","titleFontSize":16,"titleColor":"#111111"}},"y2":{"field":"hi"},"color":{"field":"lo","type":"quantitative","legend":null,"scale":{"type":"quantize","domain":[0.5,1.1],"range":["#0000AA","#0000D4","#0000FF","#002BFF","#0055FF","#0080FF","#1CB4FF","#00D4FF","#00FFFF","#2BFFD4","#55FFAA","#80FF80","#AAFF55","#D4FF2B","#FFFF00","#FFD400","#FFAA00","#FF8000","#FF6600","#FF4B22","#FF0000","#D40000","#AA0000","#800000"]}}}},
{"width":80,"height":104,"data":{"name":"fr"},"mark":{"type":"rule","opacity":0},"encoding":{}},
{"width":237,"height":104,"encoding":{"x":{"field":"x","type":"quantitative","scale":{"domain":[-1,10],"nice":false},"axis":{"values":[0,2,4,6,8,10],"title":null}},"y":{"field":"y","type":"quantitative","scale":{"domain":[-2,2],"nice":false},"axis":{"values":[-2,-1,0,1,2],"title":null}}},"layer":[
{"data":{"name":"fr"},"mark":{"type":"rect","fill":"#FF6600"},"encoding":{"x2":{"field":"x2"},"y2":{"field":"y2"}}},
{"data":{"name":"hl"},"mark":{"type":"rect","fill":"white","opacity":0.18},"encoding":{"x2":{"field":"x2"},"y2":{"field":"y2"}}},
{"data":{"name":"b5"},"mark":{"type":"area","orient":"vertical","interpolate":"monotone","stroke":"#111111","strokeWidth":0.9,"clip":true},"encoding":{"y2":{"field":"y2"},"detail":{"field":"s"},"color":{"field":"v","type":"quantitative","legend":null,"scale":{"type":"quantize","domain":[0.5,1.1],"range":["#0000AA","#0000D4","#0000FF","#002BFF","#0055FF","#0080FF","#1CB4FF","#00D4FF","#00FFFF","#2BFFD4","#55FFAA","#80FF80","#AAFF55","#D4FF2B","#FFFF00","#FFD400","#FFAA00","#FF8000","#FF6600","#FF4B22","#FF0000","#D40000","#AA0000","#800000"]}}}},
{"data":{"name":"st"},"mark":{"type":"rule","stroke":"white","opacity":0.2,"strokeWidth":1},"encoding":{"x2":{"field":"x2"}}},
{"data":{"name":"fr"},"mark":{"type":"rect","filled":false,"stroke":"#404040","strokeWidth":1},"encoding":{"x2":{"field":"x2"},"y2":{"field":"y2"}}}]},
{"width":12,"height":104,"view":{"stroke":"#404040"},"data":{"name":"cb"},"mark":{"type":"rect"},"encoding":{"y":{"field":"lo","type":"quantitative","scale":{"domain":[0.5,1.1],"nice":false},"axis":{"orient":"right","values":[0.5,0.6,0.7,0.8,0.9,1,1.1],"format":".1~f","title":"ū*","titleAngle":270,"titleX":61,"titleY":52,"titleFont":"Liberation Serif","titleFontStyle":"italic","titleFontWeight":"normal","titleFontSize":16,"titleColor":"#111111"}},"y2":{"field":"hi"},"color":{"field":"lo","type":"quantitative","legend":null,"scale":{"type":"quantize","domain":[0.5,1.1],"range":["#0000AA","#0000D4","#0000FF","#002BFF","#0055FF","#0080FF","#1CB4FF","#00D4FF","#00FFFF","#2BFFD4","#55FFAA","#80FF80","#AAFF55","#D4FF2B","#FFFF00","#FFD400","#FFAA00","#FF8000","#FF6600","#FF4B22","#FF0000","#D40000","#AA0000","#800000"]}}}}
],"spacing":10,"bounds":"flush"}
],"spacing":15,"bounds":"full"},
{"hconcat":[
{"width":237,"height":104,"encoding":{"x":{"field":"x","type":"quantitative","scale":{"domain":[-1,10],"nice":false},"axis":{"values":[0,2,4,6,8,10],"title":"(a) SEM","titleX":131,"titleY":40,"titleBaseline":"middle","titleFont":"Open Sans","titleFontSize":22.5,"titleFontWeight":"normal","titleColor":"#222222"}},"y":{"field":"y","type":"quantitative","scale":{"domain":[-2,2],"nice":false},"axis":{"values":[-2,-1,0,1,2],"title":"I∞ = 10%","titleX":-44,"titleY":40,"titleColor":"#FF2A2A","titleFont":"Liberation Serif","titleFontWeight":"bold","titleFontSize":25}}},"layer":[
{"data":{"name":"fr"},"mark":{"type":"rect","fill":"#FF6600"},"encoding":{"x2":{"field":"x2"},"y2":{"field":"y2"}}},
{"data":{"name":"h10"},"mark":{"type":"rect","fill":"white","opacity":0.18},"encoding":{"x2":{"field":"x2"},"y2":{"field":"y2"}}},
{"data":{"name":"a10"},"mark":{"type":"area","orient":"vertical","interpolate":"monotone","stroke":"#111111","strokeWidth":0.9,"clip":true},"encoding":{"y2":{"field":"y2"},"detail":{"field":"s"},"color":{"field":"v","type":"quantitative","legend":null,"scale":{"type":"quantize","domain":[0.5,1.1],"range":["#0000AA","#0000D4","#0000FF","#002BFF","#0055FF","#0080FF","#1CB4FF","#00D4FF","#00FFFF","#2BFFD4","#55FFAA","#80FF80","#AAFF55","#D4FF2B","#FFFF00","#FFD400","#FFAA00","#FF8000","#FF6600","#FF4B22","#FF0000","#D40000","#AA0000","#800000"]}}}},
{"data":{"name":"fr"},"mark":{"type":"rect","filled":false,"stroke":"#404040","strokeWidth":1},"encoding":{"x2":{"field":"x2"},"y2":{"field":"y2"}}}]},
{"width":12,"height":104,"view":{"stroke":"#404040"},"data":{"name":"cb"},"mark":{"type":"rect"},"encoding":{"y":{"field":"lo","type":"quantitative","scale":{"domain":[0.5,1.1],"nice":false},"axis":{"orient":"right","values":[0.5,0.6,0.7,0.8,0.9,1,1.1],"format":".1~f","title":"ū*","titleAngle":270,"titleX":61,"titleY":52,"titleFont":"Liberation Serif","titleFontStyle":"italic","titleFontWeight":"normal","titleFontSize":16,"titleColor":"#111111"}},"y2":{"field":"hi"},"color":{"field":"lo","type":"quantitative","legend":null,"scale":{"type":"quantize","domain":[0.5,1.1],"range":["#0000AA","#0000D4","#0000FF","#002BFF","#0055FF","#0080FF","#1CB4FF","#00D4FF","#00FFFF","#2BFFD4","#55FFAA","#80FF80","#AAFF55","#D4FF2B","#FFFF00","#FFD400","#FFAA00","#FF8000","#FF6600","#FF4B22","#FF0000","#D40000","#AA0000","#800000"]}}}},
{"width":80,"height":104,"data":{"name":"fr"},"mark":{"type":"rule","opacity":0},"encoding":{}},
{"width":237,"height":104,"encoding":{"x":{"field":"x","type":"quantitative","scale":{"domain":[-1,10],"nice":false},"axis":{"values":[0,2,4,6,8,10],"title":"(b) DFSEM","titleX":131,"titleY":40,"titleBaseline":"middle","titleFont":"Open Sans","titleFontSize":22.5,"titleFontWeight":"normal","titleColor":"#222222"}},"y":{"field":"y","type":"quantitative","scale":{"domain":[-2,2],"nice":false},"axis":{"values":[-2,-1,0,1,2],"title":null}}},"layer":[
{"data":{"name":"fr"},"mark":{"type":"rect","fill":"#FF6600"},"encoding":{"x2":{"field":"x2"},"y2":{"field":"y2"}}},
{"data":{"name":"hl"},"mark":{"type":"rect","fill":"white","opacity":0.18},"encoding":{"x2":{"field":"x2"},"y2":{"field":"y2"}}},
{"data":{"name":"b10"},"mark":{"type":"area","orient":"vertical","interpolate":"monotone","stroke":"#111111","strokeWidth":0.9,"clip":true},"encoding":{"y2":{"field":"y2"},"detail":{"field":"s"},"color":{"field":"v","type":"quantitative","legend":null,"scale":{"type":"quantize","domain":[0.5,1.1],"range":["#0000AA","#0000D4","#0000FF","#002BFF","#0055FF","#0080FF","#1CB4FF","#00D4FF","#00FFFF","#2BFFD4","#55FFAA","#80FF80","#AAFF55","#D4FF2B","#FFFF00","#FFD400","#FFAA00","#FF8000","#FF6600","#FF4B22","#FF0000","#D40000","#AA0000","#800000"]}}}},
{"data":{"name":"st"},"mark":{"type":"rule","stroke":"white","opacity":0.2,"strokeWidth":1},"encoding":{"x2":{"field":"x2"}}},
{"data":{"name":"fr"},"mark":{"type":"rect","filled":false,"stroke":"#404040","strokeWidth":1},"encoding":{"x2":{"field":"x2"},"y2":{"field":"y2"}}}]},
{"width":12,"height":104,"view":{"stroke":"#404040"},"data":{"name":"cb"},"mark":{"type":"rect"},"encoding":{"y":{"field":"lo","type":"quantitative","scale":{"domain":[0.5,1.1],"nice":false},"axis":{"orient":"right","values":[0.5,0.6,0.7,0.8,0.9,1,1.1],"format":".1~f","title":"ū*","titleAngle":270,"titleX":61,"titleY":52,"titleFont":"Liberation Serif","titleFontStyle":"italic","titleFontWeight":"normal","titleFontSize":16,"titleColor":"#111111"}},"y2":{"field":"hi"},"color":{"field":"lo","type":"quantitative","legend":null,"scale":{"type":"quantize","domain":[0.5,1.1],"range":["#0000AA","#0000D4","#0000FF","#002BFF","#0055FF","#0080FF","#1CB4FF","#00D4FF","#00FFFF","#2BFFD4","#55FFAA","#80FF80","#AAFF55","#D4FF2B","#FFFF00","#FFD400","#FFAA00","#FF8000","#FF6600","#FF4B22","#FF0000","#D40000","#AA0000","#800000"]}}}}
],"spacing":10,"bounds":"flush"}
],"spacing":21,"bounds":"full"}
